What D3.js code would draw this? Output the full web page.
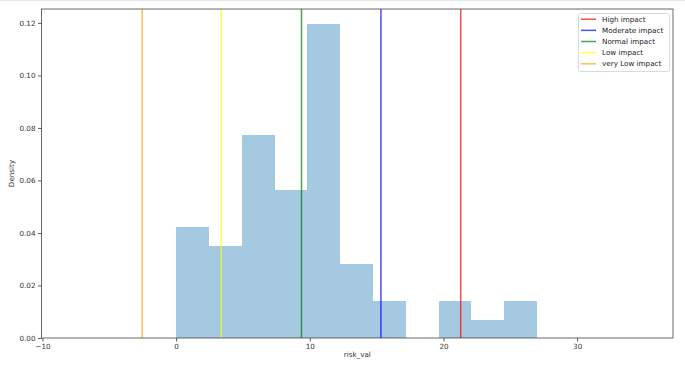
<!DOCTYPE html>
<html>
<head>
<meta charset="utf-8">
<script src="https://cdn.jsdelivr.net/npm/d3@7"></script>
<style>
  html, body { margin: 0; padding: 0; background: #fff; }
  svg { display: block; font-family: "DejaVu Sans", sans-serif; }
</style>
</head>
<body>
<svg id="chart" width="685" height="371"></svg>
<script>
// ---- data ----
const binEdges = [0, 2.4545, 4.9091, 7.3636, 9.8182, 12.2727, 14.7273, 17.1818, 19.6364, 22.0909, 24.5455, 27];
const densities = [0.0421, 0.0351, 0.0773, 0.0562, 0.1194, 0.0281, 0.0140, 0, 0.0140, 0.0070, 0.0140];
const lineLabels = ["High impact", "Moderate impact", "Normal impact", "Low impact", "very Low impact"];
const lineValues = [21.29, 15.32, 9.38, 3.38, -2.54];
const lineColors = ["red", "blue", "green", "yellow", "orange"];
const xTicks = [-10, 0, 10, 20, 30];
const yTicks = [0, 0.02, 0.04, 0.06, 0.08, 0.10, 0.12];
const xLabel = "risk_val";
const yLabel = "Density";

// ---- layout ----
const svg = d3.select("#chart");
const L = 41.5, R = 673, T = 9, B = 338;
const x = d3.scaleLinear().domain([-10.07, 37.17]).range([L, R]);
const y = d3.scaleLinear().domain([0, 0.1253]).range([B, T]);

// faint frame line at top of image
svg.append("line").attr("x1", 0).attr("x2", 685).attr("y1", 0.5).attr("y2", 0.5)
  .attr("stroke", "#e6e6e6").attr("stroke-width", 1);

// bars
const bins = densities.map((d, i) => ({ x0: binEdges[i], x1: binEdges[i + 1], v: d }));
svg.append("g").selectAll("rect").data(bins.filter(b => b.v > 0)).join("rect")
  .attr("x", d => x(d.x0))
  .attr("width", d => x(d.x1) - x(d.x0))
  .attr("y", d => y(d.v))
  .attr("height", d => y(0) - y(d.v))
  .attr("fill", "#1f77b4").attr("fill-opacity", 0.4)
  .attr("shape-rendering", "crispEdges");

// vertical lines
svg.append("g").selectAll("line").data(lineValues).join("line")
  .attr("x1", d => x(d)).attr("x2", d => x(d))
  .attr("y1", T).attr("y2", B)
  .attr("stroke", (d, i) => lineColors[i]).attr("stroke-opacity", 0.7)
  .attr("stroke-width", 1.5);

// axes
const xAxis = svg.append("g").attr("transform", `translate(0,${B})`)
  .call(d3.axisBottom(x).tickValues(xTicks).tickSize(3.5).tickPadding(2)
    .tickFormat(d => d < 0 ? "\u2212" + Math.abs(d) : d));
const yAxis = svg.append("g").attr("transform", `translate(${L},0)`)
  .call(d3.axisLeft(y).tickValues(yTicks).tickSize(3.5).tickPadding(2.5)
    .tickFormat(d3.format(".2f")));
[xAxis, yAxis].forEach(g => {
  g.select(".domain").remove();
  g.selectAll(".tick line").attr("stroke", "#333").attr("stroke-width", 0.8);
  g.selectAll(".tick text").attr("fill", "#333").attr("font-size", 7.2)
    .attr("font-family", "DejaVu Sans, sans-serif");
});

// spines
svg.append("rect").attr("x", L).attr("y", T).attr("width", R - L).attr("height", B - T)
  .attr("fill", "none").attr("stroke", "#444").attr("stroke-width", 0.8);

// axis labels
svg.append("text").attr("x", (L + R) / 2).attr("y", 357).attr("text-anchor", "middle")
  .attr("font-size", 7.2).attr("fill", "#333").text(xLabel);
svg.append("text").attr("transform", `translate(14,${(T + B) / 2}) rotate(-90)`)
  .attr("text-anchor", "middle").attr("font-size", 7.2).attr("fill", "#333").text(yLabel);

// legend
const lg = svg.append("g");
lg.append("rect").attr("x", 578.5).attr("y", 13.5).attr("width", 91).attr("height", 58).attr("rx", 2)
  .attr("fill", "#fff").attr("fill-opacity", 0.8).attr("stroke", "#d0d0d0").attr("stroke-width", 0.8);
lineLabels.forEach((lab, i) => {
  const yy = 19.2 + i * 11.15;
  lg.append("line").attr("x1", 581).attr("x2", 596).attr("y1", yy).attr("y2", yy)
    .attr("stroke", lineColors[i]).attr("stroke-opacity", 0.7).attr("stroke-width", 1.5);
  lg.append("text").attr("x", 602).attr("y", yy + 2.6).attr("font-size", 7.2).attr("fill", "#222").text(lab);
});
</script>
</body>
</html>
